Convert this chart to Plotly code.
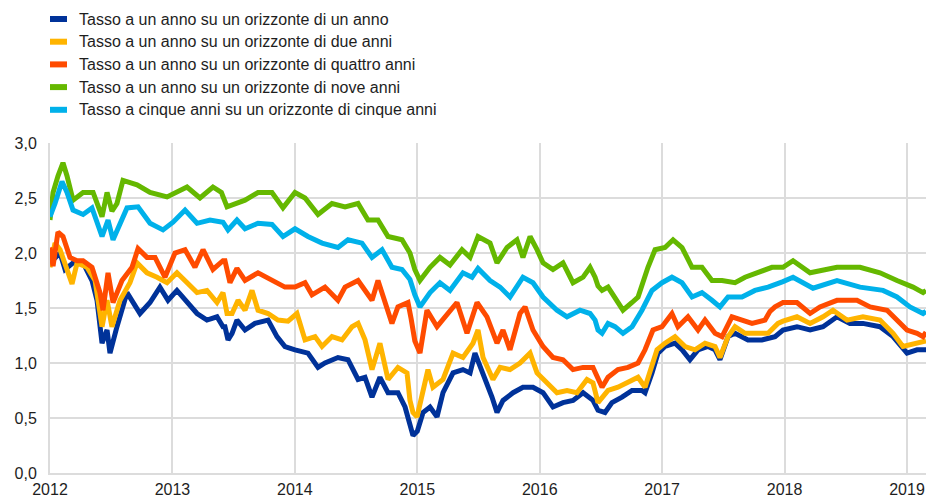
import plotly.graph_objects as go

# ---------------- data (decimal years, percent) ----------------
names = [
    "Tasso a un anno su un orizzonte di un anno",
    "Tasso a un anno su un orizzonte di due anni",
    "Tasso a un anno su un orizzonte di quattro anni",
    "Tasso a un anno su un orizzonte di nove anni",
    "Tasso a cinque anni su un orizzonte di cinque anni",
]
colors = ["#003299", "#FFB400", "#FF4B00", "#65B800", "#00B1EA"]

t_1y = [0.000, 0.041, 0.082, 0.123, 0.188, 0.270, 0.343, 0.384, 0.425, 0.466, 0.490, 0.547, 0.629, 0.735, 0.817,
        0.898, 0.964, 1.037, 1.119, 1.201, 1.282, 1.364, 1.413, 1.429, 1.454, 1.487, 1.527, 1.593, 1.674, 1.781,
        1.854, 1.919, 2.001, 2.107, 2.189, 2.246, 2.352, 2.434, 2.516, 2.573, 2.630, 2.695, 2.761, 2.842, 2.900,
        2.940, 2.965, 3.000, 3.047, 3.104, 3.161, 3.210, 3.292, 3.373, 3.431, 3.471, 3.537, 3.610, 3.651, 3.700,
        3.782, 3.863, 3.945, 4.027, 4.108, 4.190, 4.272, 4.354, 4.435, 4.476, 4.533, 4.590, 4.672, 4.754, 4.835,
        4.860, 4.917, 4.966, 5.023, 5.105, 5.162, 5.227, 5.293, 5.374, 5.432, 5.472, 5.538, 5.595, 5.701, 5.815,
        5.922, 5.987, 6.101, 6.208, 6.314, 6.428, 6.534, 6.640, 6.779, 6.886, 7.000, 7.082, 7.155]
v_1y = [1.91, 1.95, 2.00, 1.85, 1.91, 1.91, 1.75, 1.57, 1.18, 1.30, 1.09, 1.33, 1.64, 1.45, 1.55,
        1.69, 1.57, 1.66, 1.55, 1.45, 1.39, 1.42, 1.33, 1.33, 1.21, 1.27, 1.39, 1.30, 1.36, 1.39,
        1.24, 1.15, 1.12, 1.09, 0.96, 1.00, 1.05, 1.03, 0.85, 0.87, 0.69, 0.87, 0.73, 0.73, 0.60,
        0.42, 0.34, 0.38, 0.55, 0.60, 0.51, 0.73, 0.91, 0.94, 0.91, 1.09, 0.91, 0.69, 0.55, 0.66,
        0.73, 0.78, 0.78, 0.73, 0.60, 0.64, 0.66, 0.73, 0.66, 0.57, 0.55, 0.64, 0.69, 0.75, 0.75,
        0.73, 0.91, 1.09, 1.15, 1.18, 1.12, 1.03, 1.12, 1.15, 1.12, 1.03, 1.24, 1.27, 1.21, 1.21,
        1.24, 1.30, 1.33, 1.30, 1.33, 1.42, 1.36, 1.36, 1.33, 1.24, 1.09, 1.12, 1.12]

t_2y = [0.000, 0.041, 0.082, 0.123, 0.180, 0.221, 0.302, 0.368, 0.425, 0.466, 0.506, 0.572, 0.653, 0.711, 0.792,
        0.874, 0.956, 1.037, 1.119, 1.201, 1.282, 1.364, 1.413, 1.446, 1.487, 1.536, 1.593, 1.650, 1.699, 1.781,
        1.862, 1.944, 2.017, 2.083, 2.165, 2.222, 2.303, 2.385, 2.467, 2.516, 2.573, 2.630, 2.695, 2.761, 2.842,
        2.916, 2.940, 2.965, 2.998, 3.047, 3.087, 3.128, 3.210, 3.292, 3.373, 3.455, 3.496, 3.537, 3.618, 3.676,
        3.757, 3.839, 3.921, 3.978, 4.059, 4.141, 4.223, 4.304, 4.386, 4.435, 4.476, 4.558, 4.639, 4.721, 4.803,
        4.860, 4.917, 4.958, 5.023, 5.105, 5.187, 5.268, 5.350, 5.432, 5.472, 5.538, 5.595, 5.677, 5.783, 5.865,
        5.946, 5.987, 6.101, 6.208, 6.314, 6.395, 6.510, 6.640, 6.779, 6.886, 6.967, 7.082, 7.155]
v_2y = [1.87, 2.09, 2.03, 1.91, 1.72, 1.91, 1.87, 1.75, 1.33, 1.57, 1.33, 1.57, 1.73, 1.91, 1.82,
        1.78, 1.73, 1.82, 1.73, 1.64, 1.66, 1.55, 1.64, 1.45, 1.45, 1.57, 1.48, 1.66, 1.48, 1.45,
        1.39, 1.38, 1.45, 1.21, 1.24, 1.15, 1.24, 1.21, 1.33, 1.36, 1.21, 0.94, 1.18, 0.85, 0.96,
        0.91, 0.66, 0.55, 0.51, 0.73, 0.94, 0.78, 0.85, 1.09, 1.05, 1.18, 1.30, 1.05, 0.85, 0.96,
        0.94, 1.00, 1.09, 0.91, 0.82, 0.73, 0.75, 0.73, 0.85, 0.82, 0.64, 0.75, 0.78, 0.82, 0.87,
        0.78, 0.96, 1.12, 1.18, 1.24, 1.15, 1.12, 1.18, 1.15, 1.05, 1.24, 1.33, 1.27, 1.27, 1.27,
        1.36, 1.38, 1.42, 1.36, 1.42, 1.48, 1.39, 1.42, 1.39, 1.27, 1.15, 1.18, 1.20]

t_4y = [0.000, 0.025, 0.065, 0.106, 0.163, 0.221, 0.270, 0.343, 0.408, 0.433, 0.474, 0.515, 0.588, 0.670, 0.719,
        0.792, 0.858, 0.939, 1.021, 1.103, 1.184, 1.250, 1.331, 1.413, 1.429, 1.470, 1.527, 1.593, 1.699, 1.813,
        1.919, 2.001, 2.083, 2.140, 2.246, 2.352, 2.410, 2.516, 2.630, 2.679, 2.793, 2.842, 2.924, 2.950, 2.980,
        3.022, 3.079, 3.161, 3.243, 3.324, 3.406, 3.488, 3.569, 3.651, 3.700, 3.757, 3.839, 3.880, 3.945, 4.027,
        4.108, 4.190, 4.272, 4.354, 4.435, 4.476, 4.509, 4.558, 4.639, 4.721, 4.803, 4.860, 4.925, 4.999, 5.080,
        5.129, 5.211, 5.293, 5.350, 5.432, 5.489, 5.570, 5.652, 5.734, 5.840, 5.881, 5.922, 5.987, 6.101, 6.208,
        6.289, 6.428, 6.591, 6.698, 6.837, 6.918, 7.000, 7.082, 7.131, 7.155]
v_4y = [2.05, 1.88, 2.19, 2.15, 1.96, 1.93, 1.93, 1.87, 1.64, 1.48, 1.82, 1.55, 1.75, 1.87, 2.04,
        1.96, 1.96, 1.78, 2.00, 2.03, 1.87, 2.03, 1.85, 1.93, 1.93, 1.73, 1.86, 1.75, 1.82, 1.75,
        1.69, 1.69, 1.73, 1.62, 1.69, 1.57, 1.69, 1.75, 1.57, 1.75, 1.36, 1.51, 1.55, 1.40, 1.20,
        1.09, 1.48, 1.33, 1.45, 1.55, 1.27, 1.55, 1.42, 1.18, 1.30, 1.12, 1.45, 1.51, 1.30, 1.15,
        1.05, 1.03, 0.94, 0.96, 0.96, 0.85, 0.78, 0.87, 0.94, 0.96, 1.00, 1.12, 1.30, 1.33, 1.45,
        1.33, 1.42, 1.30, 1.39, 1.27, 1.24, 1.42, 1.39, 1.36, 1.39, 1.47, 1.51, 1.55, 1.55, 1.45,
        1.51, 1.57, 1.57, 1.51, 1.48, 1.39, 1.30, 1.27, 1.24, 1.28]

t_9y = [0.000, 0.025, 0.065, 0.106, 0.139, 0.188, 0.270, 0.352, 0.425, 0.466, 0.506, 0.547, 0.596, 0.711, 0.817,
        0.956, 1.119, 1.225, 1.331, 1.400, 1.446, 1.593, 1.699, 1.813, 1.903, 2.001, 2.083, 2.189, 2.303, 2.410,
        2.516, 2.597, 2.679, 2.761, 2.875, 2.940, 2.980, 3.022, 3.104, 3.185, 3.267, 3.365, 3.431, 3.496, 3.594,
        3.651, 3.733, 3.814, 3.863, 3.921, 3.978, 4.027, 4.108, 4.190, 4.272, 4.354, 4.411, 4.452, 4.476, 4.509,
        4.558, 4.615, 4.680, 4.754, 4.803, 4.884, 4.942, 5.023, 5.089, 5.162, 5.244, 5.325, 5.407, 5.489, 5.595,
        5.677, 5.783, 5.897, 5.987, 6.069, 6.208, 6.428, 6.616, 6.779, 6.918, 7.049, 7.131, 7.155]
v_9y = [2.30, 2.55, 2.70, 2.82, 2.70, 2.48, 2.55, 2.55, 2.33, 2.55, 2.38, 2.45, 2.66, 2.62, 2.55,
        2.51, 2.60, 2.50, 2.60, 2.55, 2.42, 2.48, 2.55, 2.55, 2.41, 2.55, 2.50, 2.35, 2.45, 2.42,
        2.45, 2.30, 2.30, 2.15, 2.12, 2.00, 1.85, 1.75, 1.87, 1.96, 1.89, 2.03, 1.96, 2.15, 2.09,
        1.91, 2.05, 2.12, 1.96, 2.15, 2.03, 1.91, 1.85, 1.91, 1.73, 1.78, 1.87, 1.78, 1.70, 1.66,
        1.69, 1.60, 1.48, 1.55, 1.60, 1.87, 2.03, 2.05, 2.12, 2.05, 1.87, 1.87, 1.75, 1.75, 1.73,
        1.78, 1.82, 1.87, 1.87, 1.93, 1.82, 1.87, 1.87, 1.82, 1.75, 1.69, 1.64, 1.66]

t_5y5y = [0.000, 0.041, 0.098, 0.139, 0.188, 0.270, 0.343, 0.425, 0.474, 0.515, 0.629, 0.719, 0.817, 0.923, 1.005,
          1.103, 1.201, 1.307, 1.413, 1.454, 1.527, 1.593, 1.699, 1.813, 1.903, 2.001, 2.107, 2.222, 2.352, 2.434,
          2.548, 2.630, 2.712, 2.793, 2.875, 2.940, 2.980, 3.022, 3.104, 3.185, 3.267, 3.373, 3.447, 3.496, 3.594,
          3.676, 3.757, 3.863, 3.945, 4.027, 4.141, 4.223, 4.329, 4.411, 4.452, 4.476, 4.509, 4.558, 4.615, 4.680,
          4.754, 4.835, 4.917, 4.999, 5.080, 5.162, 5.244, 5.325, 5.407, 5.472, 5.538, 5.652, 5.758, 5.865, 5.987,
          6.069, 6.232, 6.428, 6.616, 6.804, 6.918, 7.024, 7.131, 7.155]
v_5y5y = [2.33, 2.45, 2.65, 2.55, 2.39, 2.35, 2.41, 2.15, 2.30, 2.12, 2.41, 2.42, 2.27, 2.21, 2.28,
          2.39, 2.27, 2.30, 2.28, 2.21, 2.30, 2.22, 2.27, 2.26, 2.15, 2.22, 2.15, 2.09, 2.05, 2.12,
          2.09, 1.96, 2.03, 1.87, 1.85, 1.76, 1.62, 1.51, 1.64, 1.73, 1.66, 1.82, 1.78, 1.86, 1.75,
          1.69, 1.60, 1.78, 1.73, 1.60, 1.48, 1.42, 1.48, 1.45, 1.39, 1.30, 1.27, 1.36, 1.33, 1.27,
          1.33, 1.48, 1.66, 1.73, 1.78, 1.73, 1.60, 1.64, 1.57, 1.51, 1.60, 1.60, 1.66, 1.69, 1.74,
          1.78, 1.68, 1.75, 1.69, 1.66, 1.60, 1.51, 1.45, 1.47]

start_year = 2012
x_ticks = [2012, 2013, 2014, 2015, 2016, 2017, 2018, 2019]
y_ticks = [0.0, 0.5, 1.0, 1.5, 2.0, 2.5, 3.0]

series_t = [t_1y, t_2y, t_4y, t_9y, t_5y5y]
series_v = [v_1y, v_2y, v_4y, v_9y, v_5y5y]

# ---------------- figure ----------------
W, H = 926, 497
ML, MR, MT, MB = 50, 0, 143, 24
PW, PH = W - ML - MR, H - MT - MB
FONT = "Liberation Sans, Arial, sans-serif"
TXT = "#1e1e1e"
GRID = "#dcdcdc"

fig = go.Figure()
for name, col, ts, vs in zip(names, colors, series_t, series_v):
    fig.add_trace(go.Scatter(
        x=[start_year + t for t in ts], y=vs, mode="lines", name=name,
        line=dict(color=col, width=5), showlegend=False, cliponaxis=True,
    ))

# manual legend (short thick swatches + text)
def px_to_paper(px, py):
    return (px - ML) / PW, (H - MB - py) / PH

for i, (name, col) in enumerate(zip(names, colors)):
    cy = 19 + 22.7 * i
    x0, y0 = px_to_paper(50, cy + 3)
    x1, y1 = px_to_paper(67, cy - 3)
    fig.add_shape(type="rect", xref="paper", yref="paper", x0=x0, x1=x1, y0=y0, y1=y1,
                  fillcolor=col, line=dict(width=0), layer="above")
    ax, ay = px_to_paper(77, cy)
    fig.add_annotation(xref="paper", yref="paper", x=ax, y=ay, text=name, showarrow=False,
                       xanchor="left", yanchor="middle", font=dict(family=FONT, size=16, color=TXT))

fig.update_layout(
    width=W, height=H,
    margin=dict(l=ML, r=MR, t=MT, b=MB, pad=0, autoexpand=False),
    paper_bgcolor="white", plot_bgcolor="white",
    separators=",.",
    font=dict(family=FONT, size=16, color=TXT),
    xaxis=dict(
        range=[2012, start_year + 7.155], tickmode="array", tickvals=x_ticks,
        ticktext=[str(v) for v in x_ticks],
        showgrid=True, gridcolor=GRID, gridwidth=1.5,
        showline=True, linecolor=GRID, linewidth=2,
        zeroline=False, ticks="", ticklabelstandoff=1, automargin=False,
    ),
    yaxis=dict(
        range=[0, 3], tickmode="array", tickvals=y_ticks, tickformat=".1f",
        showgrid=True, gridcolor=GRID, gridwidth=1.5,
        showline=True, linecolor=GRID, linewidth=2,
        zeroline=False, ticks="", ticklabelstandoff=8, automargin=False,
    ),
)

fig.write_html(
    "out.html",
    config={"displayModeBar": False},
    post_script="document.body.style.margin='0';document.body.style.overflow='hidden';",
)
